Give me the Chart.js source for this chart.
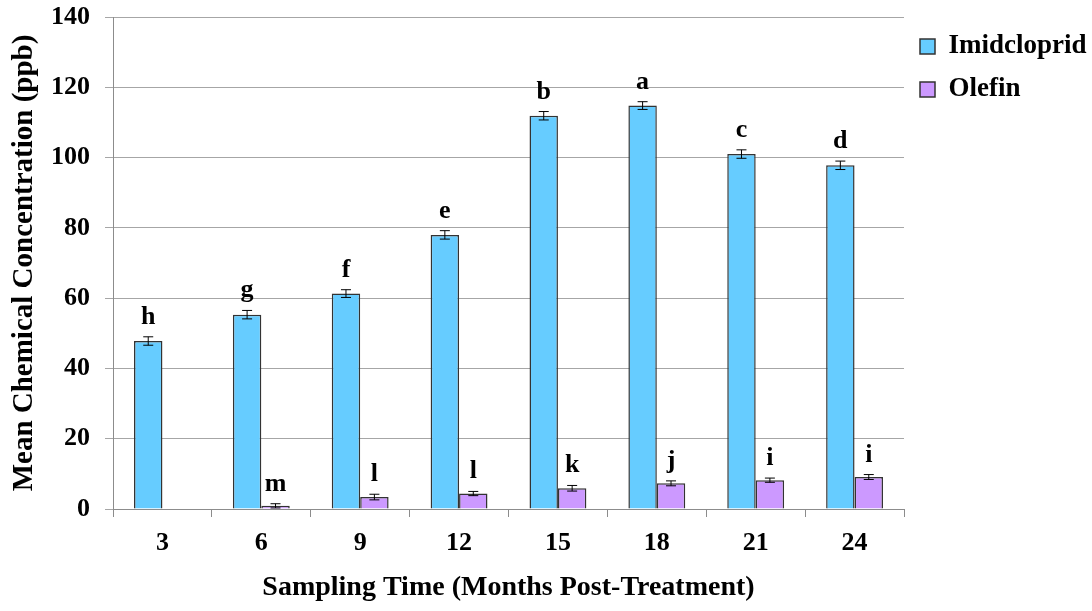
<!DOCTYPE html>
<html>
<head>
<meta charset="utf-8">
<script src="https://cdn.jsdelivr.net/npm/chart.js@4.4.1/dist/chart.umd.min.js"></script>
<style>
  html, body { margin: 0; padding: 0; background: #fff; }
  #wrap { width: 1092px; height: 611px; }
</style>
</head>
<body>
<div id="wrap"><canvas id="myBarChart" width="1092" height="611"></canvas></div>
<script>
let months = ["3", "6", "9", "12", "15", "18", "21", "24"];

let imidValues = [47.8, 55.3, 61.3, 78.0, 111.9, 114.8, 101.0, 97.8];
let imidErrors = [1.2, 1.2, 1.1, 1.2, 1.2, 1.1, 1.2, 1.2];
let imidLetters = ["h", "g", "f", "e", "b", "a", "c", "d"];

let olefinValues = [null, 0.9, 3.4, 4.4, 5.9, 7.3, 8.2, 9.1];
let olefinErrors = [null, 0.6, 0.8, 0.6, 0.8, 0.7, 0.6, 0.7];
let olefinLetters = ["", "m", "l", "l", "k", "j", "i", "i"];

let yTicks = [0, 20, 40, 60, 80, 100, 120, 140];

let serif = "'Liberation Serif', 'Times New Roman', serif";

// error bars + significance letters on top of each bar
let barExtras = {
    id: "barExtras",
    afterDatasetsDraw(chart) {
        let ctx = chart.ctx;
        let yScale = chart.scales.y;
        chart.data.datasets.forEach(function(ds, i) {
            let meta = chart.getDatasetMeta(i);
            meta.data.forEach(function(bar, j) {
                let v = ds.data[j];
                if (v === null) return;
                let err = ds.errors[j];
                let yTop = yScale.getPixelForValue(v + err);
                let yBot = yScale.getPixelForValue(v - err);
                let x = bar.x;
                ctx.save();
                ctx.strokeStyle = "#000";
                ctx.lineWidth = 1;
                ctx.beginPath();
                ctx.moveTo(x, yTop); ctx.lineTo(x, yBot);
                ctx.moveTo(x - 5, yTop); ctx.lineTo(x + 5, yTop);
                ctx.moveTo(x - 5, yBot); ctx.lineTo(x + 5, yBot);
                ctx.stroke();
                ctx.fillStyle = "#000";
                ctx.font = "bold 26px " + serif;
                ctx.textAlign = "center";
                ctx.textBaseline = "alphabetic";
                ctx.fillText(ds.letters[j], x, yTop - 13);
                ctx.restore();
            });
        });
    }
};

let myBarChart = new Chart(document.getElementById("myBarChart"), {
    type: "bar",
    data: {
        labels: months,
        datasets: [{
            label: "Imidcloprid",
            data: imidValues,
            errors: imidErrors,
            letters: imidLetters,
            backgroundColor: "#66CCFF",
            borderColor: "#333333",
            borderWidth: 1.5,
            borderSkipped: "bottom"
        }, {
            label: "Olefin",
            data: olefinValues,
            errors: olefinErrors,
            letters: olefinLetters,
            backgroundColor: "#CC99FF",
            borderColor: "#333333",
            borderWidth: 1.5,
            borderSkipped: "bottom"
        }]
    },
    options: {
        responsive: false,
        animation: false,
        devicePixelRatio: 1,
        categoryPercentage: 0.575,
        barPercentage: 1.0,
        layout: { padding: { top: 17, left: 0, right: 0, bottom: 0 } },
        plugins: {
            tooltip: { enabled: false },
            legend: {
                position: "right",
                align: "start",
                maxWidth: 188,
                labels: {
                    color: "#000",
                    boxWidth: 15,
                    boxHeight: 15,
                    padding: 16,
                    font: { family: serif, size: 27, weight: "bold" }
                }
            }
        },
        scales: {
            x: {
                grid: {
                    drawOnChartArea: false,
                    drawTicks: true,
                    tickLength: 8,
                    color: "#8C8C8C"
                },
                border: { color: "#8C8C8C" },
                ticks: {
                    color: "#000",
                    padding: 11,
                    font: { family: serif, size: 26, weight: "bold" }
                },
                title: {
                    display: true,
                    text: "Sampling Time (Months Post-Treatment)",
                    color: "#000",
                    padding: { top: 0, bottom: 6 },
                    font: { family: serif, size: 28, weight: "bold" }
                },
                afterFit: function(scale) { scale.height = 102; }
            },
            y: {
                min: 0,
                max: 140,
                afterBuildTicks: function(scale) {
                    scale.ticks = yTicks.map(function(v) { return { value: v }; });
                },
                grid: {
                    color: "#A6A6A6",
                    tickLength: 8
                },
                border: { color: "#8C8C8C" },
                ticks: {
                    color: "#000",
                    padding: 15,
                    font: { family: serif, size: 26, weight: "bold" }
                },
                title: {
                    display: true,
                    text: "Mean Chemical Concentration (ppb)",
                    color: "#000",
                    padding: { top: 7, bottom: 0 },
                    font: { family: serif, size: 29, weight: "bold" }
                },
                afterFit: function(scale) {
                    scale.width = 113;
                    scale.paddingTop = 0;
                    scale.paddingBottom = 0;
                }
            }
        }
    },
    plugins: [barExtras]
});
</script>
</body>
</html>
